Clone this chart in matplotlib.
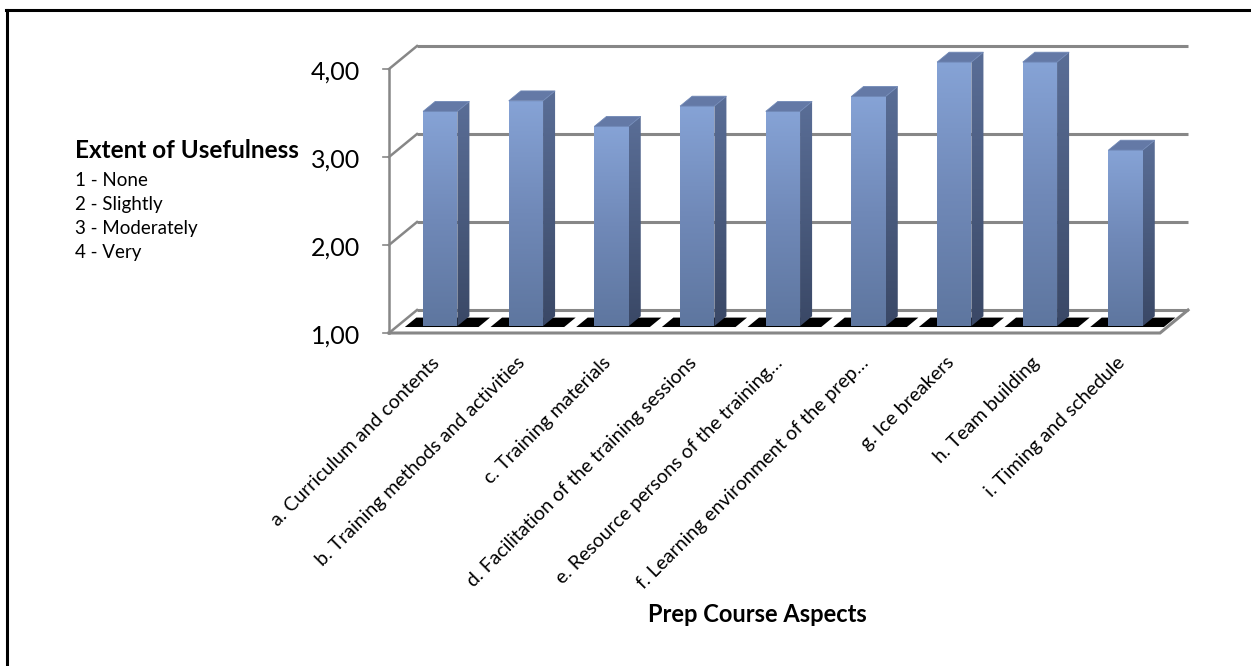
import numpy as np
import matplotlib.pyplot as plt
from matplotlib.patches import Polygon
from matplotlib.lines import Line2D
from matplotlib.colors import LinearSegmentedColormap

# Mean usefulness rating per prep course aspect
categories = [
    'a. Curriculum and contents',
    'b. Training methods and activities',
    'c. Training materials',
    'd. Facilitation of the training sessions',
    'e. Resource persons of the training…',
    'f. Learning environment of the prep…',
    'g. Ice breakers',
    'h. Team building',
    'i. Timing and schedule',
]
scores = [3.44, 3.56, 3.27, 3.50, 3.44, 3.61, 4.00, 4.00, 3.00]

y_ticks = [1, 2, 3, 4]
y_tick_labels = ['1,00', '2,00', '3,00', '4,00']

scale_title = 'Extent of Usefulness'
scale_labels = ['1 - None', '2 - Slightly', '3 - Moderately', '4 - Very']
x_title = 'Prep Course Aspects'

plt.rcParams['font.family'] = ['Lato', 'DejaVu Sans']

W, H = 1251, 666
# pixel layout of the front plane: value 1 at the left axis corner
ORIGIN_X, ORIGIN_Y = 389, 333
CAT_PX = 85.67
UNIT_PX = 88.0
# oblique depth of the box (full depth), in data units
DX, DY = 28 / CAT_PX, 23 / UNIT_PX

GRID = '#878787'

fig = plt.figure(figsize=(W / 100, H / 100), dpi=100)
ax = fig.add_axes([0, 0, 1, 1])
ax.set_xlim(-ORIGIN_X / CAT_PX, (W - ORIGIN_X) / CAT_PX)
ax.set_ylim(1 - (H - ORIGIN_Y) / UNIT_PX, 1 + ORIGIN_Y / UNIT_PX)
ax.axis('off')


def proj(x, v, z):
    return (x + DX * z, v + DY * z)


n = len(categories)
vmin, vmax = y_ticks[0], y_ticks[-1]

# back wall gridlines and left wall edges
for v in y_ticks:
    p0, p1 = proj(0, v, 1), proj(n, v, 1)
    ax.plot([p0[0], p1[0]], [p0[1], p1[1]], color=GRID, lw=2.2, zorder=1,
            solid_capstyle='butt')
    q0, q1 = proj(0, v, 0), proj(0, v, 1)
    ax.plot([q0[0], q1[0]], [q0[1], q1[1]], color=GRID, lw=1.8, zorder=1)

# floor outline
f0, f1, f2 = proj(0, vmin, 0), proj(n, vmin, 0), proj(n, vmin, 1)
ax.plot([f0[0], f1[0], f2[0]], [f0[1], f1[1], f2[1]], color=GRID, lw=2.2,
        zorder=1, solid_joinstyle='miter')

# front value axis with ticks
ax.plot([0, 0], [vmin, vmax], color=GRID, lw=1.8, zorder=4)
for v, lab in zip(y_ticks, y_tick_labels):
    ax.plot([-6 / CAT_PX, 0], [v, v], color=GRID, lw=1.2, zorder=4)
    ax.text(-29 / CAT_PX, v - 3 / UNIT_PX, lab, ha='right', va='center',
            fontsize=18, color='black')

# black floor strips between the bars
for i in range(n):
    pts = [proj(i + 0.1, vmin, 0.26), proj(i + 0.96, vmin, 0.26),
           proj(i + 0.96, vmin, 0.67), proj(i + 0.1, vmin, 0.67)]
    ax.add_patch(Polygon(pts, closed=True, facecolor='black',
                         edgecolor='none', zorder=2))

front_cmap = LinearSegmentedColormap.from_list(
    'front', ['#5E769F', '#7089B8', '#86A3D6'])
side_cmap = LinearSegmentedColormap.from_list(
    'side', ['#3A4866', '#4A5B7E', '#5A6E97'])
grad = np.linspace(0, 1, 256).reshape(-1, 1)

BAR_W = 0.4
Z0, Z1 = 0.30, 0.73
for i, val in enumerate(scores):
    x0 = i + 0.5 - BAR_W / 2
    x1 = i + 0.5 + BAR_W / 2
    # front face
    a, b = proj(x0, vmin, Z0), proj(x1, val, Z0)
    front = Polygon([a, (b[0], a[1]), b, (a[0], b[1])], closed=True,
                    facecolor='none', edgecolor='none', zorder=3)
    ax.add_patch(front)
    im = ax.imshow(grad, cmap=front_cmap, origin='lower', aspect='auto',
                   extent=[a[0], b[0], a[1], b[1]], zorder=3,
                   interpolation='bilinear')
    im.set_clip_path(front)
    # right side face
    side_pts = [proj(x1, vmin, Z0), proj(x1, val, Z0),
                proj(x1, val, Z1), proj(x1, vmin, Z1)]
    side = Polygon(side_pts, closed=True, facecolor='none',
                   edgecolor='none', zorder=3)
    ax.add_patch(side)
    xs = [p[0] for p in side_pts]
    ys = [p[1] for p in side_pts]
    im2 = ax.imshow(grad, cmap=side_cmap, origin='lower', aspect='auto',
                    extent=[min(xs), max(xs), min(ys), max(ys)], zorder=3,
                    interpolation='bilinear')
    im2.set_clip_path(side)
    # top face
    top_pts = [proj(x0, val, Z0), proj(x1, val, Z0),
               proj(x1, val, Z1), proj(x0, val, Z1)]
    ax.add_patch(Polygon(top_pts, closed=True, facecolor='#6479A6',
                         edgecolor='#7088B6', lw=0.6, zorder=3.5))

# category labels
for i, lab in enumerate(categories):
    ax.text(i + 0.56, vmin - 27 / UNIT_PX, lab, rotation=45,
            rotation_mode='anchor', ha='right', va='center',
            fontsize=14, color='black')

# rating scale key
fig.text(75 / W, 1 - 151 / H, scale_title, ha='left', va='center',
         fontsize=17.5, fontweight='bold')
for k, lab in enumerate(scale_labels):
    fig.text(75 / W, 1 - (180 + 24.3 * k) / H, lab, ha='left', va='center',
             fontsize=13.5)

fig.text(757 / W, 1 - 615 / H, x_title, ha='center', va='center',
         fontsize=17, fontweight='bold')

# outer frame
fig.add_artist(Line2D([7 / W, 7 / W], [0, 1 - 9.5 / H], color='black',
                      lw=2.2, transform=fig.transFigure))
fig.add_artist(Line2D([6 / W, 1], [1 - 9.5 / H, 1 - 9.5 / H], color='black',
                      lw=2.2, transform=fig.transFigure))

fig.savefig('out.png', dpi=100)
